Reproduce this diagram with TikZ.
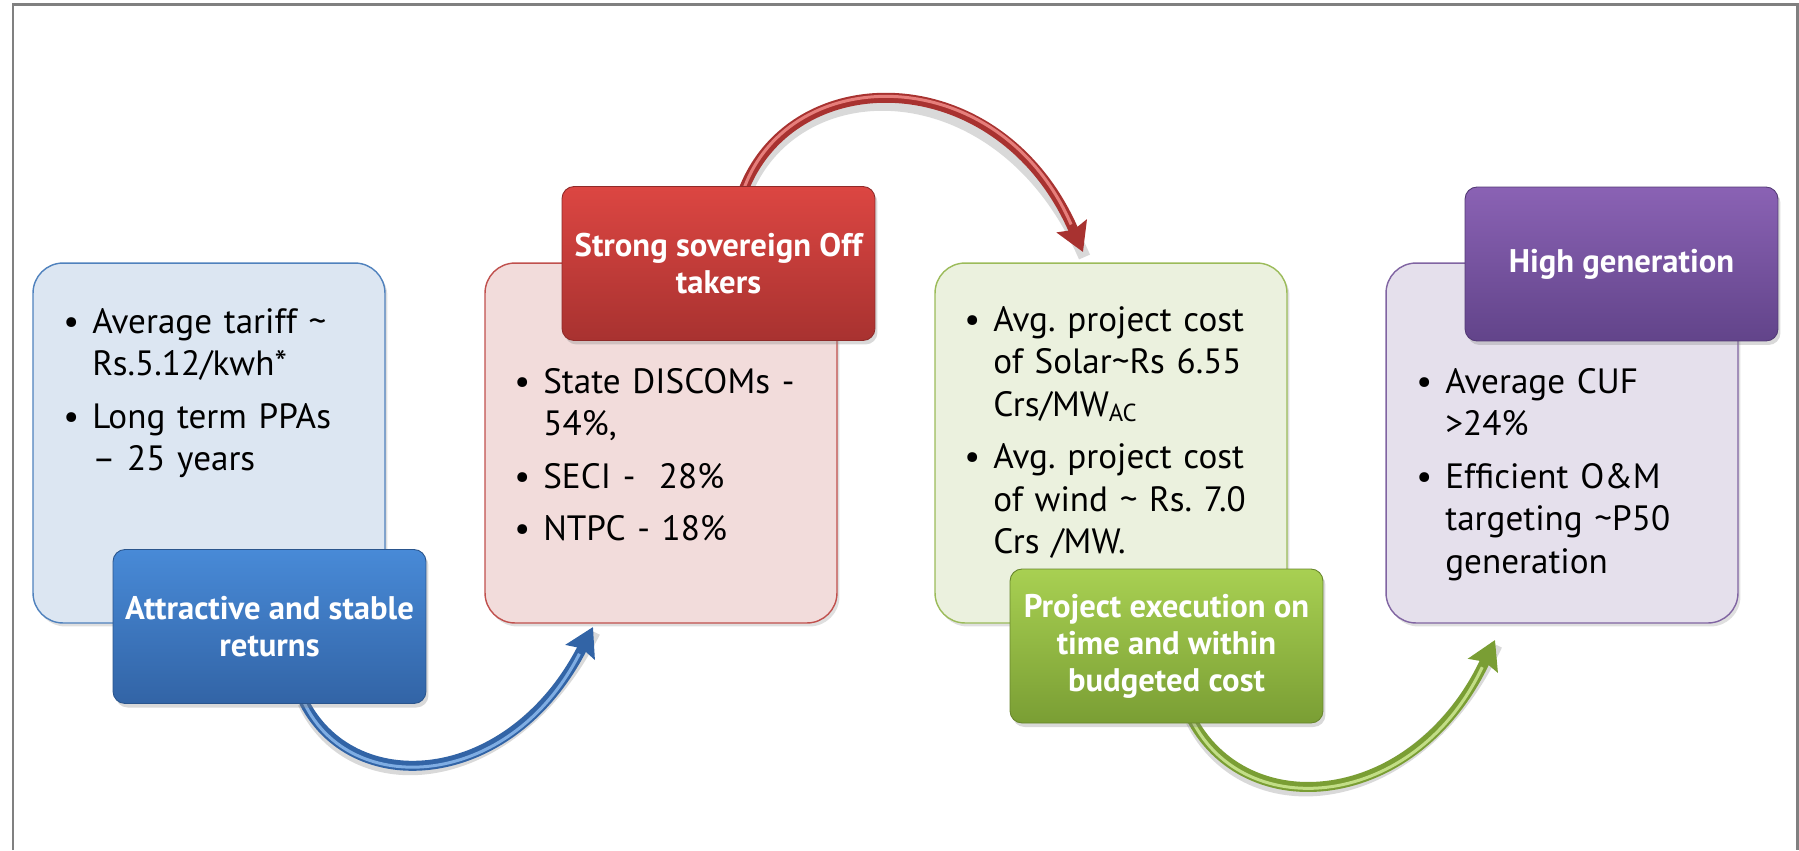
\documentclass[tikz,border=0pt]{standalone}
\usepackage{fontspec}
\setmainfont{PT Sans}
\usetikzlibrary{arrows.meta,shadows,backgrounds}

\definecolor{blueline}{RGB}{79,129,189}
\definecolor{bluefill}{RGB}{220,230,242}
\definecolor{bluetop}{RGB}{72,138,215}
\definecolor{bluebot}{RGB}{50,100,166}
\definecolor{redline}{RGB}{192,80,77}
\definecolor{redfill}{RGB}{242,220,219}
\definecolor{redtop}{RGB}{220,70,66}
\definecolor{redbot}{RGB}{168,50,48}
\definecolor{greenline}{RGB}{155,187,89}
\definecolor{greenfill}{RGB}{235,241,222}
\definecolor{greentop}{RGB}{168,208,82}
\definecolor{greenbot}{RGB}{122,158,52}
\definecolor{purpleline}{RGB}{128,100,162}
\definecolor{purplefill}{RGB}{229,224,236}
\definecolor{purpletop}{RGB}{138,98,180}
\definecolor{purplebot}{RGB}{98,68,138}

\frenchspacing
\newcommand{\bitem}[1]{\noindent\llap{\textbullet\hspace{0.26cm}}#1\par\vspace{0.2cm}}

\tikzset{
  softbox/.style={draw=#1line, fill=#1fill, line width=0.8pt, rounded corners=0.6cm,
    minimum width=7.04cm, minimum height=7.2cm,
    drop shadow={shadow xshift=0.05cm, shadow yshift=-0.07cm, opacity=0.25}},
  headbox/.style={draw=#1bot!85!black, top color=#1top, bottom color=#1bot, line width=0.5pt,
    rounded corners=0.24cm, minimum width=6.26cm, minimum height=3.08cm, inner sep=2pt,
    align=center, text=white, font=\fontsize{18.6}{21}\selectfont\bfseries,
    drop shadow={shadow xshift=0.05cm, shadow yshift=-0.08cm, opacity=0.3}},
  pointtext/.style={anchor=north west, inner sep=0pt, text width=5.8cm, align=left,
    font=\fontsize{20}{24.2}\selectfont},
  tube/.style={draw=#1bot, line width=0.2cm,
    -{Stealth[length=0.56cm, width=0.64cm, inset=0.08cm, fill=#1bot]}},
  tubelight/.style={draw=#1top!70!white, line width=0.06cm, shorten >=0.6cm, shorten <=0.1cm},
  tubeshadow/.style={draw=black, opacity=0.15, line width=0.24cm,
    transform canvas={xshift=0.03cm, yshift=-0.1cm}}
}

\begin{document}
\begin{tikzpicture}[x=0.02cm, y=-0.02cm]
\useasboundingbox (0,0) rectangle (1799,850);
\draw[gray, line width=0.06cm] (13,850) -- (13,4) -- (1797,4) -- (1797,850);

% light boxes with the points
\node[softbox=blue] (blueback) at (209,443) {};
\node[softbox=red] (redback) at (661,443) {};
\node[softbox=green] (greenback) at (1111,443) {};
\node[softbox=purple] (purpleback) at (1562,443) {};

\node[pointtext] (bluetext) at (92,308) {\bitem{Average tariff \textasciitilde\\Rs.5.12/kwh*}\bitem{Long term PPAs\\-- 25 years}};
\node[pointtext] (redtext) at (543,368) {\bitem{State DISCOMs -\\54\%,}\bitem{SECI - \ 28\%}\bitem{NTPC - 18\%}};
\node[pointtext] (greentext) at (993,306) {\bitem{Avg. project cost\\of Solar\textasciitilde Rs 6.55\\Crs/MW\textsubscript{AC}}\bitem{Avg. project cost\\of wind \textasciitilde\ Rs. 7.0\\Crs /MW.}};
\node[pointtext] (purpletext) at (1445,368) {\bitem{Average CUF\\>24\%}\bitem{Efficient O\&M\\targeting \textasciitilde P50\\generation}};

% heading boxes
\node[headbox=blue] (bluehead) at (269.5,626.5) {Attractive and stable\\returns};
\node[headbox=red] (redhead) at (718.5,263.5) {Strong sovereign Off\\takers};
\node[headbox=green] (greenhead) at (1166.5,646) {Project execution on\\time and within\\budgeted cost};
\node[headbox=purple] (purplehead) at (1621.5,264) {High generation};

% curved arrows
\coordinate (bluestart) at (302,698);
\coordinate (blueend) at (593,627);
\coordinate (redstart) at (742,194);
\coordinate (redend) at (1083,252);
\coordinate (greenstart) at (1190,716);
\coordinate (greenend) at (1495,640);

\begin{scope}[on background layer]
\draw[tubeshadow] (bluestart) .. controls (350,800) and (510,790) .. (blueend);
\draw[tube=blue] (bluestart) .. controls (350,800) and (510,790) .. (blueend);
\draw[tubelight=blue] (bluestart) .. controls (350,800) and (510,790) .. (blueend);

\draw[tubeshadow] (redstart) .. controls (790,60) and (1000,60) .. (redend);
\draw[tube=red] (redstart) .. controls (790,60) and (1000,60) .. (redend);
\draw[tubelight=red] (redstart) .. controls (790,60) and (1000,60) .. (redend);

\draw[tubeshadow] (greenstart) .. controls (1245,825) and (1415,810) .. (greenend);
\draw[tube=green] (greenstart) .. controls (1245,825) and (1415,810) .. (greenend);
\draw[tubelight=green] (greenstart) .. controls (1245,825) and (1415,810) .. (greenend);
\end{scope}
\end{tikzpicture}
\end{document}
